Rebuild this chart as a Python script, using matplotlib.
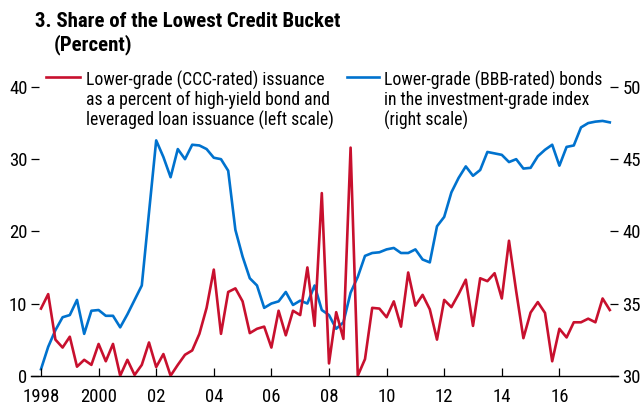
import numpy as np
import matplotlib
matplotlib.use("Agg")
import matplotlib.pyplot as plt

plt.rcParams["font.family"] = ["Roboto Condensed", "DejaVu Sans"]

# quarterly, 1998Q1 .. 2017Q4
dates = 1998 + np.arange(80) / 4

# CCC-rated share of HY bond + leveraged loan issuance (left scale, percent)
ccc_share = [
    9.3, 11.3, 5.0, 3.9, 5.4, 1.25, 2.2, 1.5, 4.4, 2.0,
    4.4, 0.0, 2.2, 0.1, 1.5, 4.6, 1.2, 3.0, 0.0, 1.5,
    2.9, 3.5, 5.8, 9.4, 14.7, 5.8, 11.6, 12.1, 10.3, 5.9,
    6.5, 6.8, 3.9, 9.0, 5.6, 9.0, 8.4, 15.0, 6.9, 25.3,
    1.7, 8.8, 5.1, 31.6, 0.0, 2.3, 9.4, 9.3, 8.1, 10.3,
    6.8, 14.3, 9.7, 11.2, 9.2, 5.0, 10.5, 9.5, 11.3, 13.3,
    6.9, 13.5, 13.1, 14.2, 10.7, 18.7, 11.7, 5.2, 8.75, 10.2,
    8.7, 2.0, 6.5, 5.3, 7.4, 7.4, 7.9, 7.4, 10.7, 9.1,
]

# BBB-rated share of the investment-grade index (right scale, percent)
bbb_share = [
    30.45, 32.0, 33.15, 34.05, 34.2, 35.25, 32.9, 34.5, 34.55, 34.15,
    34.15, 33.35, 34.25, 35.25, 36.25, 41.3, 46.3, 45.15, 43.75, 45.7,
    45.0, 46.0, 45.95, 45.7, 45.1, 45.0, 44.2, 40.1, 38.25, 36.75,
    36.25, 34.7, 35.0, 35.15, 35.8, 34.9, 35.2, 35.0, 36.25, 34.55,
    34.2, 33.25, 33.7, 35.75, 36.85, 38.3, 38.5, 38.55, 38.75, 38.85,
    38.5, 38.5, 38.75, 38.05, 37.85, 40.35, 41.0, 42.7, 43.7, 44.5,
    43.85, 44.25, 45.5, 45.4, 45.3, 44.8, 45.0, 44.35, 44.4, 45.2,
    45.65, 46.0, 44.55, 45.85, 45.95, 47.2, 47.5, 47.6, 47.65, 47.55,
]

xtick_pos = list(range(1998, 2018, 2))
xtick_labels = ["1998", "2000", "02", "04", "06", "08", "10", "12", "14", "16"]

ccc_label = ("Lower-grade (CCC-rated) issuance\n"
             "as a percent of high-yield bond and\n"
             "leveraged loan issuance (left scale)")
bbb_label = ("Lower-grade (BBB-rated) bonds\n"
             "in the investment-grade index\n"
             "(right scale)")

RED = "#C8102E"
BLUE = "#0072CE"

fig = plt.figure(figsize=(6.4, 4.09), dpi=100)
ax = fig.add_axes([31 / 640, 1 - 375.7 / 409, (618 - 31) / 640, (375.7 - 87) / 409])
ax2 = ax.twinx()

l1, = ax.plot(dates, ccc_share, color=RED, lw=1.9, zorder=3)
l2, = ax2.plot(dates, bbb_share, color=BLUE, lw=1.9, zorder=2)
ax.set_zorder(ax2.get_zorder() + 1)
ax.patch.set_visible(False)

ax.set_xlim(1997.653, 2018.035)
ax.set_ylim(0, 40)
ax2.set_ylim(30, 50)
ax.set_yticks([0, 10, 20, 30, 40])
ax2.set_yticks([30, 35, 40, 45, 50])
ax.set_xticks(xtick_pos)
ax.set_xticklabels(xtick_labels)

for a in (ax, ax2):
    for s in ("top", "left", "right"):
        a.spines[s].set_visible(False)
    a.spines["bottom"].set_linewidth(1.0)
ax2.spines["bottom"].set_visible(False)

ax.tick_params(axis="x", direction="in", length=6, width=0.9, pad=8.5, labelsize=13.5)
ax.tick_params(axis="y", direction="in", length=6, width=0.9, pad=2.5, labelsize=13.5)
ax2.tick_params(axis="y", direction="in", length=6, width=0.9, pad=3, labelsize=13.5)

fs = 12.7
leg1 = fig.legend([l1], [ccc_label], loc="upper left", bbox_to_anchor=(46 / 640, 1 - 71 / 409),
                  frameon=False, fontsize=fs, handlelength=1.95, handletextpad=0.3,
                  borderpad=0, borderaxespad=0, labelspacing=0)
leg2 = fig.legend([l2], [bbb_label], loc="upper left", bbox_to_anchor=(347 / 640, 1 - 71 / 409),
                  frameon=False, fontsize=fs, handlelength=1.8, handletextpad=0.3,
                  borderpad=0, borderaxespad=0, labelspacing=0)
for leg in (leg1, leg2):
    for t in leg.get_texts():
        t.set_linespacing(1.08)
    for col in leg._legend_handle_box.get_children():
        for row in col.get_children():
            row.align = "top"

fig.text(35 / 640, 1 - 27 / 409, "3. Share of the Lowest Credit Bucket",
         fontsize=15, fontweight="bold", ha="left", va="baseline")
fig.text(54 / 640, 1 - 50 / 409, "(Percent)",
         fontsize=15, fontweight="bold", ha="left", va="baseline")

fig.savefig("out.png", dpi=100)
